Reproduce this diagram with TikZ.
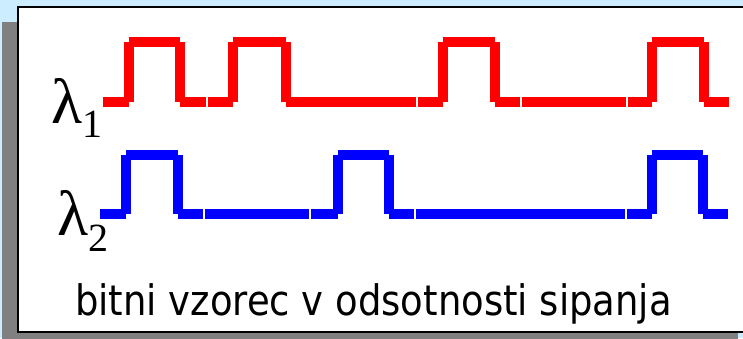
\documentclass[tikz,border=0pt]{standalone}
\usepackage{fontspec}
\setmainfont{Liberation Serif}
\newfontfamily\labelfont[FakeStretch=0.88]{DejaVu Sans}
\definecolor{bgblue}{RGB}{204,236,255}
\definecolor{shadowgray}{RGB}{128,128,128}
\tikzset{
    redsig/.style={draw=red, line width=10pt, line cap=butt},
    bluesig/.style={draw=blue, line width=10pt, line cap=butt},
    lam/.style={inner sep=0pt, anchor=base west, font=\fontsize{64}{64}\selectfont},
    caption/.style={inner sep=0pt, anchor=base west, font=\labelfont\fontsize{42}{42}\selectfont},
}
% one bit with a pulse: start, rise, fall, end (each edge its own piece)
\newcommand{\pulse}[6]{%
    \draw[#1] (#3,#2) -- (#4,#2) (#4,#2) -- (#4,#2-59.5) (#4,#2-59.5) -- (#5,#2-59.5)
        (#5,#2-59.5) -- (#5,#2) (#5,#2) -- (#6,#2);}

\begin{document}
\begin{tikzpicture}[x=1pt, y=-1pt]
    \useasboundingbox (0,0) rectangle (743,338);
    \clip (0,0) rectangle (743,338);
    \fill[bgblue] (0,0) rectangle (743,338);
    \fill[shadowgray] (2,22) rectangle (738,350);
    \filldraw[fill=white, draw=black, line width=1.5pt] (18,7) rectangle (760,332);

    \node[lam] (lam1) at (51,123) {λ\raisebox{-14pt}{\fontsize{40}{40}\selectfont 1}};
    \node[lam] (lam2) at (57,235) {λ\raisebox{-16pt}{\fontsize{40}{40}\selectfont 2}};

    % red channel
    \pulse{redsig}{101.5}{103}{128.5}{180}{206}
    \pulse{redsig}{101.5}{208}{233}{285.5}{416}
    \pulse{redsig}{101.5}{418}{442.5}{494.5}{520}
    \draw[redsig] (522,101.5) -- (626,101.5);
    \pulse{redsig}{101.5}{628}{652}{703.5}{729}

    % blue channel
    \pulse{bluesig}{214}{100}{126}{177.5}{203}
    \draw[bluesig] (205,214) -- (309,214);
    \pulse{bluesig}{214}{311}{337.5}{388.5}{414}
    \draw[bluesig] (416,214) -- (625,214);
    \pulse{bluesig}{214}{627}{652}{703}{728}

    \node[caption] (cap) at (75,315) {bitni vzorec v odsotnosti sipanja};
\end{tikzpicture}
\end{document}
